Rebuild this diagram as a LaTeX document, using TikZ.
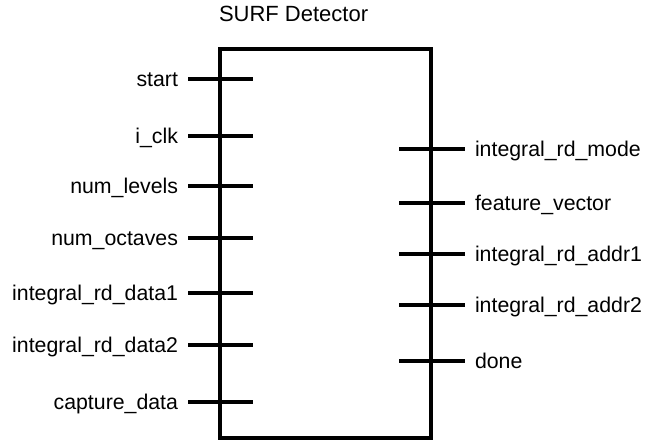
\documentclass[tikz,border=0pt]{standalone}
\usepackage{fontspec}
\setmainfont{Liberation Sans}
\usetikzlibrary{positioning}

\begin{document}
\begin{tikzpicture}[
            x = 1pt, y = -1pt, % one unit per pixel, y runs down
            line width = 4pt, % heavy block lines
            every node/.style = {inner sep = 0pt, outer sep = 0pt}
        ]

        \tikzstyle{block}=[
            draw = black,
            fill = white,
            minimum width = 211pt,
            minimum height = 389pt
        ]
        \tikzstyle{pinlbl}=[font = \fontsize{21.3}{25}\selectfont]
        \tikzstyle{pin}=[draw = black, line width = 4pt]

        \useasboundingbox (0,0) rectangle (647,441);

        \node[block, anchor = north west] (surf) at (220,49) {};
        \node[pinlbl, font = \fontsize{22}{26}\selectfont, anchor = base west] (title) at (219,22) {SURF Detector};

        % inputs
        \coordinate (start) at (188,79);         \coordinate (start-in) at (253,79);
        \coordinate (clk) at (188,136);          \coordinate (clk-in) at (253,136);
        \coordinate (levels) at (188,186);       \coordinate (levels-in) at (253,186);
        \coordinate (octaves) at (188,238);      \coordinate (octaves-in) at (253,238);
        \coordinate (data1) at (188,293);        \coordinate (data1-in) at (253,293);
        \coordinate (data2) at (188,345);        \coordinate (data2-in) at (253,345);
        \coordinate (capture) at (188,402);      \coordinate (capture-in) at (253,402);

        \path[pin] (start) -- (start-in);
        \path[pin] (clk) -- (clk-in);
        \path[pin] (levels) -- (levels-in);
        \path[pin] (octaves) -- (octaves-in);
        \path[pin] (data1) -- (data1-in);
        \path[pin] (data2) -- (data2-in);
        \path[pin] (capture) -- (capture-in);

        \node[pinlbl, anchor = base east] (start-l) at ([xshift=-10pt,yshift=-7.5pt]start) {start};
        \node[pinlbl, anchor = base east] (clk-l) at ([xshift=-10pt,yshift=-7.5pt]clk) {i\_clk};
        \node[pinlbl, anchor = base east] (levels-l) at ([xshift=-10pt,yshift=-7.5pt]levels) {num\_levels};
        \node[pinlbl, anchor = base east] (octaves-l) at ([xshift=-10pt,yshift=-7.5pt]octaves) {num\_octaves};
        \node[pinlbl, anchor = base east] (data1-l) at ([xshift=-10pt,yshift=-7.5pt]data1) {integral\_rd\_data1};
        \node[pinlbl, anchor = base east] (data2-l) at ([xshift=-10pt,yshift=-7.5pt]data2) {integral\_rd\_data2};
        \node[pinlbl, anchor = base east] (capture-l) at ([xshift=-10pt,yshift=-7.5pt]capture) {capture\_data};

        % outputs
        \coordinate (mode-out) at (399,149);     \coordinate (mode) at (465,149);
        \coordinate (vector-out) at (399,203);   \coordinate (vector) at (465,203);
        \coordinate (addr1-out) at (399,254);    \coordinate (addr1) at (465,254);
        \coordinate (addr2-out) at (399,305);    \coordinate (addr2) at (465,305);
        \coordinate (done-out) at (399,361);     \coordinate (done) at (465,361);

        \path[pin] (mode-out) -- (mode);
        \path[pin] (vector-out) -- (vector);
        \path[pin] (addr1-out) -- (addr1);
        \path[pin] (addr2-out) -- (addr2);
        \path[pin] (done-out) -- (done);

        \node[pinlbl, anchor = base west] (mode-l) at ([xshift=10pt,yshift=-7.5pt]mode) {integral\_rd\_mode};
        \node[pinlbl, anchor = base west] (vector-l) at ([xshift=10pt,yshift=-7.5pt]vector) {feature\_vector};
        \node[pinlbl, anchor = base west] (addr1-l) at ([xshift=10pt,yshift=-7.5pt]addr1) {integral\_rd\_addr1};
        \node[pinlbl, anchor = base west] (addr2-l) at ([xshift=10pt,yshift=-7.5pt]addr2) {integral\_rd\_addr2};
        \node[pinlbl, anchor = base west] (done-l) at ([xshift=10pt,yshift=-7.5pt]done) {done};

        %\draw[red, dashed] (0,0) rectangle (647,441);
    \end{tikzpicture}
\end{document}
